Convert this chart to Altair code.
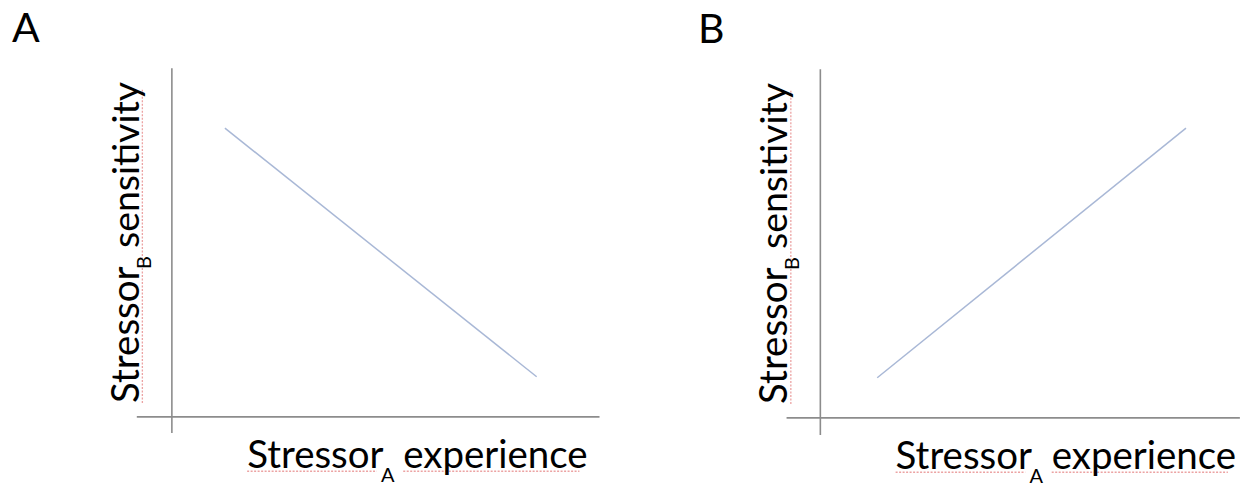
import altair as alt
import pandas as pd

PANELS = ["A", "B"]
PANEL_WIDTH = {"A": 649, "B": 584}
PANEL_HEIGHT = 472
X_DOMAIN = {"A": [-38.32, 113.32], "B": [-38.32, 98.13]}
Y_DOMAIN = {"A": [-18.05, 117.19], "B": [-17.77, 117.48]}

# drawn axis segments (vertical, horizontal)
AXIS_X1 = {"A": [0, -8.2], "B": [0, -7.9]}
AXIS_X2 = {"A": [0, 100], "B": [0, 98.1]}
AXIS_Y1 = {"A": [-4.6, 0], "B": [-4.9, 0]}
AXIS_Y2 = {"A": [100, 0], "B": [100, 0]}

# relationship lines
TREND_X = {"A": [12.4, 85.3], "B": [13.3, 85.5]}
TREND_Y = {"A": [82.8, 11.5], "B": [11.5, 83.1]}

PANEL_LABEL_X = {"A": -37.4, "B": -28.6}
PANEL_LABEL_Y = {"A": 107.4, "B": 107.6}

# x title pieces (main text, subscript, main text)
XT_TEXT = ["Stressor", "A", "experience"]
XT_X = [17.6, 48.9, 54.1]
XT_Y = [-14.6, -18.6, -14.6]
XT_SIZE = [38.5, 20, 38.5]

# y title pieces (rotated)
YT_TEXT = ["Stressor", "B", "sensitivity"]
YT_X = [-7.7, -4.9, -7.7]
YT_Y = [4.0, 42.4, 48.4]
YT_SIZE = [38.5, 20, 37.5]

# spell-check squiggles
SQ_X1 = [17.6, 54.1, -6.9]
SQ_X2 = [47.9, 95.3, -6.9]
SQ_Y1 = [-15.6, -15.6, 4.0]
SQ_Y2 = [-15.6, -15.6, 94.0]

FONT = "Lato"


def panel(p):
    xs = alt.Scale(domain=X_DOMAIN[p], nice=False, zero=False)
    ys = alt.Scale(domain=Y_DOMAIN[p], nice=False, zero=False)

    axes_df = pd.DataFrame({"x": AXIS_X1[p], "x2": AXIS_X2[p],
                            "y": AXIS_Y1[p], "y2": AXIS_Y2[p]})
    axes = alt.Chart(axes_df).mark_rule(color="#8c8c8c", strokeWidth=1.6).encode(
        x=alt.X("x:Q", scale=xs, axis=None), x2="x2:Q",
        y=alt.Y("y:Q", scale=ys, axis=None), y2="y2:Q")

    trend_df = pd.DataFrame({"x": TREND_X[p], "y": TREND_Y[p]})
    trend = alt.Chart(trend_df).mark_line(color="#a9b8d6", strokeWidth=1.5).encode(
        x=alt.X("x:Q", scale=xs, axis=None),
        y=alt.Y("y:Q", scale=ys, axis=None))

    sq_df = pd.DataFrame({"x": SQ_X1, "x2": SQ_X2, "y": SQ_Y1, "y2": SQ_Y2})
    squig = alt.Chart(sq_df).mark_rule(color="#e06666", strokeWidth=1.3,
                                       strokeDash=[2, 1.5], opacity=0.6).encode(
        x=alt.X("x:Q", scale=xs, axis=None), x2="x2:Q",
        y=alt.Y("y:Q", scale=ys, axis=None), y2="y2:Q")

    lab_df = pd.DataFrame({"t": [p], "x": [PANEL_LABEL_X[p]], "y": [PANEL_LABEL_Y[p]]})
    lab = alt.Chart(lab_df).mark_text(font=FONT, fontSize=41, align="left",
                                      baseline="alphabetic", color="#000").encode(
        x=alt.X("x:Q", scale=xs, axis=None),
        y=alt.Y("y:Q", scale=ys, axis=None), text="t:N")

    xt_df = pd.DataFrame({"t": XT_TEXT, "x": XT_X, "y": XT_Y, "s": XT_SIZE})
    xt = alt.Chart(xt_df).mark_text(font=FONT, align="left", baseline="alphabetic",
                                    color="#000").encode(
        x=alt.X("x:Q", scale=xs, axis=None),
        y=alt.Y("y:Q", scale=ys, axis=None),
        text="t:N", size=alt.Size("s:Q", scale=None, legend=None))

    yt_df = pd.DataFrame({"t": YT_TEXT, "x": YT_X, "y": YT_Y, "s": YT_SIZE})
    yt = alt.Chart(yt_df).mark_text(font=FONT, align="left", baseline="alphabetic",
                                    angle=270, color="#000").encode(
        x=alt.X("x:Q", scale=xs, axis=None),
        y=alt.Y("y:Q", scale=ys, axis=None),
        text="t:N", size=alt.Size("s:Q", scale=None, legend=None))

    return alt.layer(axes, squig, trend, lab, xt, yt).properties(
        width=PANEL_WIDTH[p], height=PANEL_HEIGHT)


chart = alt.hconcat(*[panel(p) for p in PANELS], spacing=0, padding=0).configure_view(
    stroke=None)

chart.save("out.html", embed_options={"renderer": "svg", "actions": False})
